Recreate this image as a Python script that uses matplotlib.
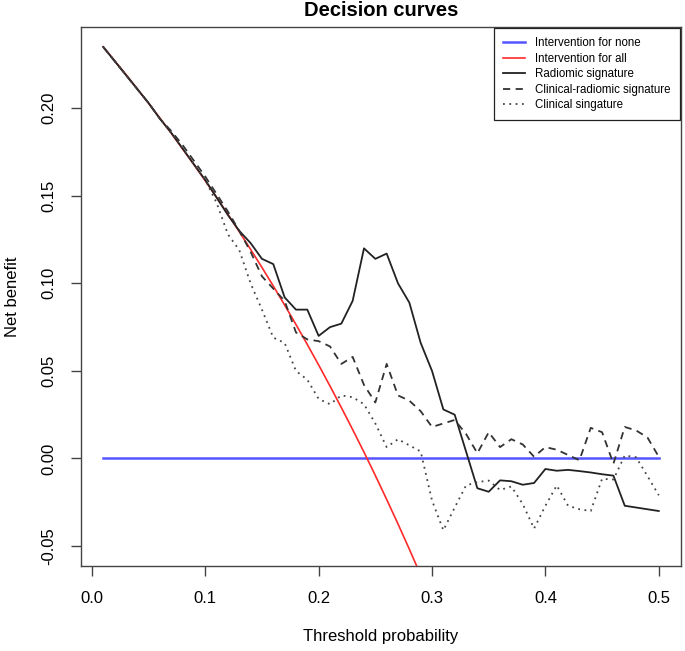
import numpy as np
import matplotlib
matplotlib.use("Agg")
import matplotlib.pyplot as plt

plt.rcParams['font.family'] = ['Liberation Sans', 'DejaVu Sans']

# Threshold probabilities
thresholds = [round(0.01 * i, 2) for i in range(1, 51)]

# Intervention for all (until it leaves the plot)
all_x = [0.01, 0.02, 0.03, 0.04, 0.05, 0.06, 0.07, 0.08, 0.09, 0.10,
         0.11, 0.12, 0.13, 0.14, 0.15, 0.16, 0.17, 0.18, 0.19, 0.20,
         0.21, 0.22, 0.23, 0.24, 0.25, 0.26, 0.27, 0.28, 0.29]
all_nb = [0.2351, 0.2272, 0.2193, 0.2111, 0.2028, 0.1944, 0.1857, 0.1768, 0.1678, 0.1586,
          0.1491, 0.1394, 0.1295, 0.1194, 0.1091, 0.0985, 0.0876, 0.0765, 0.0651, 0.0534,
          0.0414, 0.0291, 0.0165, 0.0036, -0.0097, -0.0234, -0.0374, -0.0518, -0.0666]

radiomic = [0.235, 0.227, 0.219, 0.211, 0.203, 0.194, 0.186, 0.177, 0.168, 0.159,
            0.149, 0.139, 0.130, 0.123, 0.114, 0.111, 0.092, 0.085, 0.085, 0.070,
            0.075, 0.077, 0.090, 0.120, 0.114, 0.117, 0.100, 0.089, 0.066, 0.050,
            0.028, 0.025, 0.004, -0.017, -0.019, -0.0125, -0.013, -0.015, -0.014, -0.006,
            -0.007, -0.0065, -0.0072, -0.008, -0.009, -0.0098, -0.027, -0.028, -0.029, -0.030]

clinical_radiomic = [0.235, 0.227, 0.219, 0.211, 0.203, 0.194, 0.187, 0.179, 0.170, 0.161,
                     0.151, 0.141, 0.130, 0.118, 0.104, 0.097, 0.090, 0.072, 0.068, 0.067,
                     0.064, 0.054, 0.058, 0.042, 0.032, 0.054, 0.036, 0.033, 0.027, 0.018,
                     0.020, 0.022, 0.014, 0.003, 0.015, 0.0065, 0.011, 0.008, 0.001, 0.0065,
                     0.005, 0.002, -0.001, 0.0175, 0.015, -0.003, 0.018, 0.016, 0.012, 0.001]

clinical = [0.235, 0.227, 0.219, 0.211, 0.203, 0.194, 0.186, 0.177, 0.168, 0.159,
            0.146, 0.128, 0.119, 0.100, 0.085, 0.069, 0.066, 0.050, 0.045, 0.034,
            0.031, 0.036, 0.035, 0.031, 0.020, 0.0065, 0.011, 0.0075, 0.004, -0.024,
            -0.041, -0.028, -0.0154, -0.0135, -0.0126, -0.018, -0.016, -0.026, -0.040, -0.027,
            -0.0154, -0.027, -0.029, -0.030, -0.0116, -0.012, 0.0017, 0.0007, -0.010, -0.021]

none_x = [0.01, 0.50]
none_nb = [0.0, 0.0]

labels = ["Intervention for none", "Intervention for all", "Radiomic signature",
          "Clinical-radiomic signature", "Clinical singature"]
x_ticks = [0.0, 0.1, 0.2, 0.3, 0.4, 0.5]
y_ticks = [-0.05, 0.00, 0.05, 0.10, 0.15, 0.20]

fig = plt.figure(figsize=(6.85, 6.51), dpi=100)
ax = fig.add_axes([81/685, 1 - 566/651, 600/685, 539/651])

ax.plot(none_x, none_nb, color='#5555ff', lw=1.8, label=labels[0], zorder=2)
ax.plot(all_x, all_nb, color='#ff2a2a', lw=1.2, label=labels[1], zorder=2)
ax.plot(thresholds, radiomic, color='#222222', lw=1.3, label=labels[2], zorder=3)
ax.plot(thresholds, clinical_radiomic, color='#333333', lw=1.3, dashes=(4, 3),
        label=labels[3], zorder=3)
ax.plot(thresholds, clinical, color='#444444', lw=1.3, dashes=(1, 2.5),
        label=labels[4], zorder=3)

ax.set_xlim(-0.0096, 0.5196)
ax.set_ylim(-0.0614, 0.2464)
ax.set_xticks(x_ticks)
ax.set_xticklabels([f"{v:.1f}" for v in x_ticks])
ax.set_yticks(y_ticks)
ax.set_yticklabels([f"{v:.2f}" for v in y_ticks], rotation=90, va='center')

for s in ax.spines.values():
    s.set_color('#444444')
    s.set_linewidth(1.0)
ax.tick_params(axis='both', direction='out', length=7.5, width=1.0, color='#444444',
               labelsize=12)
ax.tick_params(axis='x', pad=10.5)
ax.tick_params(axis='y', pad=10)

ax.set_xlabel("Threshold probability", fontsize=12)
ax.set_ylabel("Net benefit", fontsize=12)
ax.xaxis.set_label_coords(0.5, -(636 - 566) / 539)
ax.xaxis.label.set_va('center')
ax.yaxis.set_label_coords(-(81 - 13) / 600, 0.5)
ax.yaxis.label.set_va('center')

fig.text(381/685, 1 - 11/651, "Decision curves", ha='center', va='center',
         fontsize=14.5, fontweight='bold')

leg = ax.legend(loc='upper right', fontsize=8.3, frameon=True, fancybox=False,
                edgecolor='#222222', framealpha=1, borderaxespad=0.1,
                handlelength=1.9, handletextpad=0.85, labelspacing=0.3,
                borderpad=0.8)
leg.get_frame().set_linewidth(0.9)

fig.savefig("out.png", dpi=100)
